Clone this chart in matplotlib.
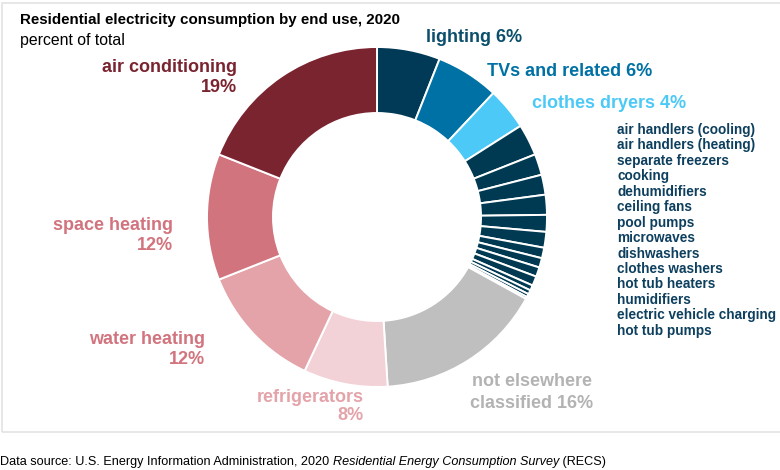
import matplotlib
matplotlib.use("Agg")
import matplotlib.pyplot as plt
from matplotlib.patches import Rectangle

plt.rcParams['font.family'] = ['Liberation Sans', 'DejaVu Sans']

# end uses, clockwise from the top
big_top = ['lighting', 'TVs and related', 'clothes dryers']
big_top_pct = [6, 6, 4]
small_uses = ['air handlers (cooling)', 'air handlers (heating)', 'separate freezers',
              'cooking', 'dehumidifiers', 'ceiling fans', 'pool pumps', 'microwaves',
              'dishwashers', 'clothes washers', 'hot tub heaters', 'humidifiers',
              'electric vehicle charging', 'hot tub pumps']
small_pct = [3.0, 2.0, 1.9, 1.9, 1.6, 1.5, 1.0, 0.9, 0.9, 0.9, 0.5, 0.4, 0.3, 0.2]
big_bottom = ['not elsewhere\nclassified', 'refrigerators', 'water heating',
              'space heating', 'air conditioning']
big_bottom_pct = [16, 8, 12, 12, 19]

top_colors = ['#003A56', '#0071A4', '#4CC9F6']
small_color = '#003A52'
bottom_colors = ['#BFBFBF', '#F2D2D6', '#E3A3A9', '#D2747E', '#7A2430']

W, H = 780, 470
def Y(y):
    return H - y

fig = plt.figure(figsize=(7.8, 4.7), dpi=100)
ax = fig.add_axes([0, 0, 1, 1])

values = big_top_pct + small_pct + big_bottom_pct
colors = top_colors + [small_color] * len(small_pct) + bottom_colors
ax.pie(values, colors=colors, startangle=90, counterclock=False,
       center=(377, Y(217)), radius=170,
       wedgeprops=dict(width=66, edgecolor='white', linewidth=1.4))
ax.set_xlim(0, W)
ax.set_ylim(0, H)
ax.set_aspect('equal')
ax.axis('off')

# light frame
ax.add_patch(Rectangle((2, Y(432)), 800, 429, fill=False, edgecolor='#E3E3E3', lw=1.2))

ax.text(20, Y(20), 'Residential electricity consumption by end use, 2020',
        fontsize=10.9, fontweight='bold', color='black', va='center')
ax.text(20, Y(41), 'percent of total', fontsize=11.4, color='black', va='center')

lab = dict(fontsize=13, fontweight='bold', va='center')
# top right labels
ax.text(426, Y(38), f'{big_top[0]} {big_top_pct[0]}%', color='#0B4F6C', ha='left', **lab)
ax.text(487, Y(71), f'{big_top[1]} {big_top_pct[1]}%', color='#0071A4', ha='left', **lab)
ax.text(532, Y(103), f'{big_top[2]} {big_top_pct[2]}%', color='#4CC9F6', ha='left', **lab)

# small uses list
for i, name in enumerate(small_uses):
    ax.text(617, Y(130 + i * 15.45), name, fontsize=9.8, fontweight='bold',
            color='#0D3F5E', ha='left', va='center')

# left / bottom labels
ax.text(237, Y(67), big_bottom[4], color='#7A2430', ha='right', **lab)
ax.text(237, Y(87), f'{big_bottom_pct[4]}%', color='#7A2430', ha='right', **lab)
ax.text(173, Y(225), big_bottom[3], color='#D2747E', ha='right', **lab)
ax.text(173, Y(245), f'{big_bottom_pct[3]}%', color='#D2747E', ha='right', **lab)
ax.text(205, Y(340), big_bottom[2], color='#D2747E', ha='right', **lab)
ax.text(205, Y(360), f'{big_bottom_pct[2]}%', color='#D2747E', ha='right', **lab)
ax.text(364, Y(397), big_bottom[1], color='#E3A3A9', ha='right', **lab)
ax.text(364, Y(416), f'{big_bottom_pct[1]}%', color='#E3A3A9', ha='right', **lab)
nec1, nec2 = big_bottom[0].split('\n')
ax.text(532, Y(382), nec1, color='#B3B3B3', ha='center', **lab)
ax.text(532, Y(403), f'{nec2} {big_bottom_pct[0]}%', color='#B3B3B3', ha='center', **lab)

# data source line with italic title
renderer = fig.canvas.get_renderer()
x = 0
parts = [('Data source: U.S. Energy Information Administration, 2020 ', 'normal'),
         ('Residential Energy Consumption Survey', 'italic'),
         (' (RECS)', 'normal')]
for s, style in parts:
    t = ax.text(x, Y(462), s, fontsize=9.1, style=style, color='black', va='center',
                ha='left')
    bb = t.get_window_extent(renderer=renderer)
    x += bb.width

fig.savefig('out.png', dpi=100)
